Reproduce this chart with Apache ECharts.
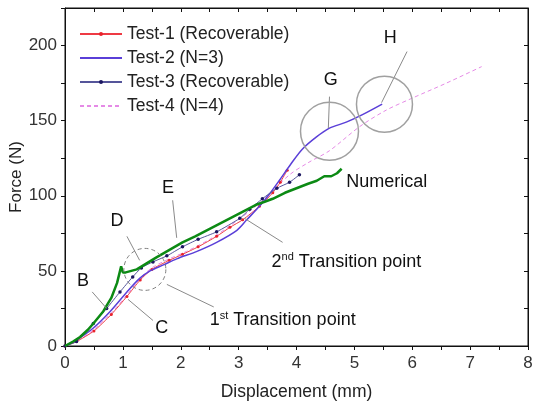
<!DOCTYPE html>
<html>
<head>
<meta charset="utf-8">
<script src="https://cdn.jsdelivr.net/npm/echarts@6/dist/echarts.min.js"></script>
<style>
  html, body { margin: 0; padding: 0; background: #fff; }
  #chart { width: 535px; height: 409px; }
</style>
</head>
<body>
<div id="chart"></div>
<script>
// displacement (mm), force (N)
const test1 = [[0,0],[0.2,3],[0.5,10],[0.8,21],[1.07,33],[1.3,44],[1.5,51],[1.8,57],[2.03,61],[2.3,66],[2.62,73],[2.85,79],[3.07,84],[3.36,93],[3.59,102],[3.72,109],[3.84,117]]
const test2 = [[0,0],[0.2,4],[0.49,12],[0.78,23],[1.07,36],[1.29,45],[1.47,50],[1.7,54],[1.93,58],[2.28,63],[2.62,69],[2.97,77],[3.14,84],[3.36,93],[3.53,101],[3.7,110],[3.9,121],[4.1,131],[4.34,139],[4.57,145],[4.86,149],[5.14,154],[5.48,161]]
const test3 = [[0,0],[0.2,3],[0.49,15],[0.72,25],[0.95,36],[1.17,46],[1.32,52],[1.52,56],[1.76,60],[2.03,66],[2.3,71],[2.62,76],[3.02,85],[3.19,91],[3.41,98],[3.66,105],[3.88,109],[4.05,114]]
const test4 = [[0,0],[0.2,3],[0.5,11],[0.8,22],[1.07,34],[1.3,45],[1.5,52],[1.8,58],[2.1,63],[2.5,71],[2.85,80],[3.2,90],[3.5,100],[3.88,114],[4.2,122],[4.57,130],[5.09,146],[5.55,157],[6.0,165],[6.59,175],[7.2,186]]
const numerical = [[0,0],[0.14,3],[0.26,6],[0.4,11],[0.49,15],[0.66,23],[0.8,32],[0.9,42],[0.97,53],[1.0,49],[1.05,49],[1.24,51],[1.41,55],[1.58,59],[1.76,63],[2.03,69],[2.25,73],[2.45,77],[2.7,82],[2.9,86],[3.1,90],[3.3,94],[3.45,96],[3.59,98],[3.8,102],[4.0,105],[4.2,108],[4.35,110],[4.48,113],[4.6,113],[4.7,115],[4.78,118]]

const seriesNames = ['Test-1 (Recoverable)', 'Test-2 (N=3)', 'Test-3 (Recoverable)', 'Test-4 (N=4)']
const xLabels = [0, 1, 2, 3, 4, 5, 6, 7, 8]
const yLabels = [0, 50, 100, 150, 200]

// annotations, in data coordinates
const letters = [
  { text: 'B', at: [0.31, 43] },
  { text: 'C', at: [1.67, 12] },
  { text: 'D', at: [0.9, 83] },
  { text: 'E', at: [1.78, 105] },
  { text: 'G', at: [4.59, 177] },
  { text: 'H', at: [5.62, 205] }
]
const pointers = [
  [[0.47, 36], [0.72, 25]],
  [[1.52, 17], [1.09, 31]],
  [[1.07, 73], [1.29, 57]],
  [[1.86, 97], [1.93, 72]],
  [[4.57, 166], [4.55, 145]],
  [[5.91, 196], [5.47, 162]],
  [[1.76, 41], [2.57, 26]],
  [[3.1, 85], [3.76, 69]]
]
const rings = [
  { at: [4.57, 143], r: 29, dashed: false },
  { at: [5.52, 161], r: 28, dashed: false },
  { at: [1.38, 51], r: 21, dashed: true }
]

const font = 'Arial, "Liberation Sans", sans-serif'
const chart = echarts.init(document.getElementById('chart'))

const axisLine = () => ({ show: true, onZero: false, lineStyle: { color: '#111', width: 1 } })
const noDot = { opacity: 0 }

chart.setOption({
  animation: false,
  backgroundColor: '#fff',
  grid: {
    left: 65, right: 7, top: 8, bottom: 63, containLabel: false, outerBoundsMode: 'none',
    show: true, borderColor: '#111', borderWidth: 1
  },
  legend: {
    orient: 'vertical',
    left: 74,
    top: 20,
    itemWidth: 42,
    itemHeight: 5,
    itemGap: 6,
    data: [
      { name: seriesNames[0] },
      { name: seriesNames[1], itemStyle: noDot },
      { name: seriesNames[2] },
      { name: seriesNames[3], itemStyle: noDot }
    ],
    textStyle: { fontSize: 17.5, color: '#222', fontFamily: font }
  },
  xAxis: [{
    type: 'value', min: 0, max: 8, interval: 0.5,
    name: 'Displacement (mm)', nameLocation: 'middle', nameGap: 37,
    nameTextStyle: { fontSize: 17.5, color: '#222', fontFamily: font },
    axisLine: axisLine(), splitLine: { show: false },
    axisTick: { length: 4, lineStyle: { color: '#111' } },
    axisLabel: {
      fontSize: 17, color: '#333', fontFamily: font, margin: 9,
      formatter: v => xLabels.includes(v) ? String(v) : ''
    }
  }, {
    type: 'value', min: 0, max: 8, interval: 0.5, position: 'top',
    axisLine: axisLine(), splitLine: { show: false }, axisLabel: { show: false },
    axisTick: { inside: true, length: 4, lineStyle: { color: '#111' } }
  }],
  yAxis: [{
    type: 'value', min: 0, max: 225, interval: 25,
    name: 'Force (N)', nameLocation: 'middle', nameGap: 40, nameRotate: 90, nameMoveOverlap: false,
    nameTextStyle: { fontSize: 17, color: '#222', fontFamily: font },
    axisLine: axisLine(), splitLine: { show: false },
    axisTick: { length: 4, lineStyle: { color: '#111' } },
    axisLabel: {
      fontSize: 17, color: '#333', fontFamily: font, margin: 8,
      formatter: v => yLabels.includes(v) ? String(v) : ''
    }
  }, {
    type: 'value', min: 0, max: 225, interval: 25, position: 'right',
    axisLine: axisLine(), splitLine: { show: false }, axisLabel: { show: false },
    axisTick: { inside: true, length: 4, lineStyle: { color: '#111' } }
  }],
  series: [{
    name: seriesNames[0], type: 'line', data: test1, z: 3,
    smooth: 0.2, symbol: 'circle', symbolSize: 3,
    itemStyle: { color: '#e8222c' }, lineStyle: { color: '#ee3a44', width: 1 }
  }, {
    name: seriesNames[1], type: 'line', data: test2, z: 4,
    smooth: 0.3, symbol: 'none',
    itemStyle: { color: '#5a3fd8' }, lineStyle: { color: '#5a3fd8', width: 1.5 }
  }, {
    name: seriesNames[2], type: 'line', data: test3, z: 5,
    smooth: 0.2, symbol: 'circle', symbolSize: 3.5,
    itemStyle: { color: '#1b1660' }, lineStyle: { color: '#55559a', width: 1 }
  }, {
    name: seriesNames[3], type: 'line', data: test4, z: 2,
    smooth: 0.3, symbol: 'none',
    itemStyle: { color: '#e58ae6' }, lineStyle: { color: '#e58ae6', width: 1, type: [4, 3] }
  }, {
    name: 'Numerical', type: 'line', data: numerical, z: 6,
    symbol: 'none',
    itemStyle: { color: '#0c8a14' }, lineStyle: { color: '#0c8a14', width: 2.5 }
  }]
})

const px = p => chart.convertToPixel({ gridIndex: 0 }, p)
const gfx = []
pointers.forEach(([a, b]) => {
  const p1 = px(a), p2 = px(b)
  gfx.push({ type: 'line', shape: { x1: p1[0], y1: p1[1], x2: p2[0], y2: p2[1] },
    style: { stroke: '#8a8a8a', lineWidth: 1 }, z: 10 })
})
rings.forEach(c => {
  const p = px(c.at)
  gfx.push({ type: 'circle', shape: { cx: p[0], cy: p[1], r: c.r },
    style: { fill: 'none', stroke: c.dashed ? '#808080' : '#a0a0a0', lineWidth: c.dashed ? 1 : 1.5,
      lineDash: c.dashed ? [4, 3] : null }, z: 10 })
})
letters.forEach(l => {
  const p = px(l.at)
  gfx.push({ type: 'text', x: p[0], y: p[1], z: 11,
    style: { text: l.text, fontSize: 18, fill: '#111', fontFamily: font, align: 'center', verticalAlign: 'middle' } })
})
const textAt = (at, text, rich) => {
  const p = px(at)
  gfx.push({ type: 'text', x: p[0], y: p[1], z: 11,
    style: { text, rich, fontSize: 18, fill: '#111', fontFamily: font, align: 'left', verticalAlign: 'middle' } })
}
const sup = { sup: { fontSize: 11, fill: '#111', fontFamily: font, verticalAlign: 'bottom', padding: [0, 0, 9, 0] },
  n: { fontSize: 18, fill: '#111', fontFamily: font } }
textAt([4.86, 109], 'Numerical')
textAt([3.57, 56], '{n|2}{sup|nd}{n| Transition point}', sup)
textAt([2.5, 17], '{n|1}{sup|st}{n| Transition point}', sup)

chart.setOption({ graphic: gfx })
</script>
</body>
</html>
